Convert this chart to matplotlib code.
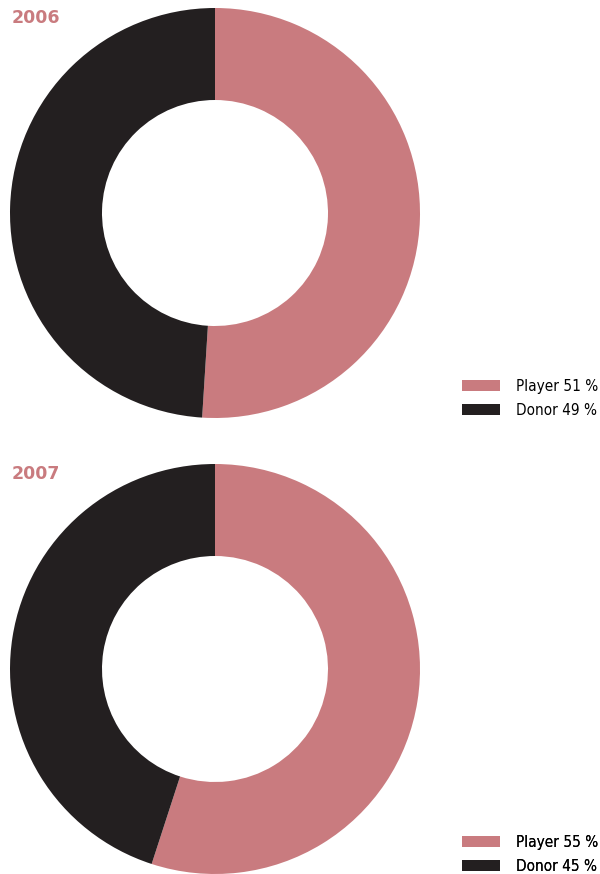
import matplotlib.pyplot as plt

# data
years = ['2006', '2007']
labels = ['Player', 'Donor']
shares = {'2006': [51, 49], '2007': [55, 45]}

colors = ['#c97b7f', '#231f20']
pink = '#c97b7f'

W, H = 600, 874
fig = plt.figure(figsize=(W / 100, H / 100), dpi=100)
ax = fig.add_axes([0, 0, 1, 1])

# centres in pixels from the top, legend top positions
centres = [(215, 213), (215, 669)]
legend_tops = [379, 835]
title_y = [18, 474]

for yr, (cx, cy), ly, ty in zip(years, centres, legend_tops, title_y):
    vals = shares[yr]
    wedges, _ = ax.pie(vals, colors=colors, startangle=90, counterclock=False,
                       center=(cx, H - cy), radius=205,
                       wedgeprops=dict(width=205 - 113, linewidth=0))
    ax.text(12, H - ty, yr, color=pink, fontsize=12.5, fontweight='bold',
            ha='left', va='center', family='DejaVu Sans')
    leg_labels = ['%s %d %%' % (l, v) for l, v in zip(labels, vals)]
    leg = ax.legend(wedges, leg_labels, loc='upper left',
                    bbox_to_anchor=(462 / W, 1 - ly / H), bbox_transform=fig.transFigure,
                    frameon=False, borderpad=0, borderaxespad=0,
                    handlelength=2.5, handleheight=0.75, handletextpad=1.05,
                    labelspacing=0.6,
                    prop={'family': 'DejaVu Sans', 'stretch': 'condensed', 'size': 11})
    ax.add_artist(leg)

# pie() resets the limits, so set them afterwards
ax.set_xlim(0, W)
ax.set_ylim(0, H)
ax.set_aspect('equal')
ax.axis('off')

plt.savefig('out.png', dpi=100)
